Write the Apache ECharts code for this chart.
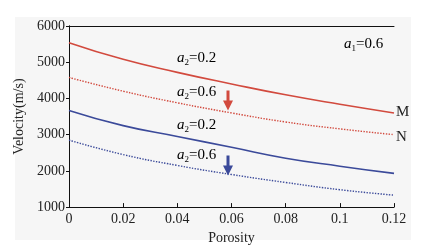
<!DOCTYPE html>
<html>
<head>
<meta charset="utf-8">
<script src="https://cdn.jsdelivr.net/npm/echarts@6/dist/echarts.min.js"></script>
<style>
  html, body { margin: 0; padding: 0; background: #fff; }
  #main { width: 423px; height: 250px; }
</style>
</head>
<body>
<div id="main"></div>
<script>
// porosity values and velocity curves (m/s)
var porosity = [0, 0.02, 0.04, 0.06, 0.08, 0.1, 0.12];
var redSolid = [5540, 5080, 4720, 4400, 4100, 3840, 3600];   // M, a2=0.2
var redDot   = [4580, 4200, 3880, 3600, 3350, 3160, 3000];   // N, a2=0.6
var blueSolid = [3670, 3250, 2950, 2650, 2350, 2130, 1930];  // a2=0.2
var blueDot   = [2850, 2450, 2150, 1900, 1680, 1480, 1330];  // a2=0.6

function pairs(ys) {
  return porosity.map(function (x, i) { return [x, ys[i]]; });
}

var serif = '"Liberation Serif", "DejaVu Serif", serif';
var RED = '#d24a3e', BLUE = '#3b4a9a';

var richA2 = {
  i: { fontStyle: 'italic', fontSize: 15, fontFamily: serif, color: '#333', lineHeight: 18, verticalAlign: 'middle' },
  s: { fontSize: 9, fontFamily: serif, color: '#333', lineHeight: 18, verticalAlign: 'bottom' },
  n: { fontSize: 15, fontFamily: serif, color: '#333', lineHeight: 18, verticalAlign: 'middle' }
};

function label(x, y, sub, val) {
  return {
    type: 'text', left: x, top: y, z: 10,
    style: { text: '{i|a}{s|' + sub + '}{n|=' + val + '}', rich: richA2 }
  };
}

function arrow(x, y, color) {
  return {
    type: 'group', left: x, top: y, z: 10,
    children: [
      { type: 'line', shape: { x1: 5, y1: 0, x2: 5, y2: 14 }, style: { stroke: color, lineWidth: 3 } },
      { type: 'polygon', shape: { points: [[0, 10], [10, 10], [5, 20]] }, style: { fill: color } }
    ]
  };
}

var chart = echarts.init(document.getElementById('main'));
chart.setOption({
  animation: false,
  backgroundColor: '#fff',
  grid: { left: 69, right: 29, top: 26, bottom: 42 },
  xAxis: [{
    type: 'value', min: 0, max: 0.12, interval: 0.02,
    name: 'Porosity', nameLocation: 'middle', nameGap: 17,
    nameTextStyle: { fontFamily: serif, fontSize: 14, color: '#222' },
    axisLine: { lineStyle: { color: '#111', width: 1 } },
    axisTick: { inside: true, length: 4, lineStyle: { color: '#111' } },
    axisLabel: { fontFamily: serif, fontSize: 14, color: '#222', margin: 5,
      formatter: function (v) { return String(+v.toFixed(2)); } },
    splitLine: { show: false }
  }, {
    type: 'value', position: 'top', min: 0, max: 0.12,
    axisLine: { show: true, lineStyle: { color: '#111' } },
    axisTick: { show: false }, axisLabel: { show: false }, splitLine: { show: false }
  }],
  yAxis: [{
    type: 'value', min: 1000, max: 6000, interval: 1000,
    name: 'Velocity(m/s)', nameLocation: 'middle', nameGap: 38,
    nameTextStyle: { fontFamily: serif, fontSize: 14, color: '#222' },
    axisLine: { show: true, lineStyle: { color: '#111', width: 1 } },
    axisTick: { show: true, length: 3, lineStyle: { color: '#111' } },
    axisLabel: { fontFamily: serif, fontSize: 14, color: '#222', margin: 4,
      formatter: function (v) { return String(v); } },
    splitLine: { show: false }
  }, {
    type: 'value', position: 'right', min: 1000, max: 6000,
    axisLine: { show: true, lineStyle: { color: '#111' } },
    axisTick: { show: false }, axisLabel: { show: false }, splitLine: { show: false }
  }],
  series: [
    { type: 'line', data: pairs(redSolid), smooth: true, symbol: 'none',
      lineStyle: { color: RED, width: 1.6 } },
    { type: 'line', data: pairs(redDot), smooth: true, symbol: 'none',
      lineStyle: { color: RED, width: 1.4, type: 'dotted' } },
    { type: 'line', data: pairs(blueSolid), smooth: true, symbol: 'none',
      lineStyle: { color: BLUE, width: 1.6 } },
    { type: 'line', data: pairs(blueDot), smooth: true, symbol: 'none',
      lineStyle: { color: BLUE, width: 1.4, type: 'dotted' } }
  ],
  graphic: [
    { type: 'rect', left: 15, top: 17, z: -10, silent: true,
      shape: { width: 396, height: 223 }, style: { fill: '#f6f6f6' } },
    label(177, 51, '2', '0.2'),
    label(177, 85, '2', '0.6'),
    label(177, 118, '2', '0.2'),
    label(177, 148, '2', '0.6'),
    arrow(223, 88, RED),
    arrow(223, 153, BLUE),
    label(344, 37, '1', '0.6'),
    { type: 'text', left: 396, top: 105, z: 10,
      style: { text: 'M', fontFamily: serif, fontSize: 15, fill: '#222' } },
    { type: 'text', left: 396, top: 130, z: 10,
      style: { text: 'N', fontFamily: serif, fontSize: 15, fill: '#222' } }
  ]
});
</script>
</body>
</html>
